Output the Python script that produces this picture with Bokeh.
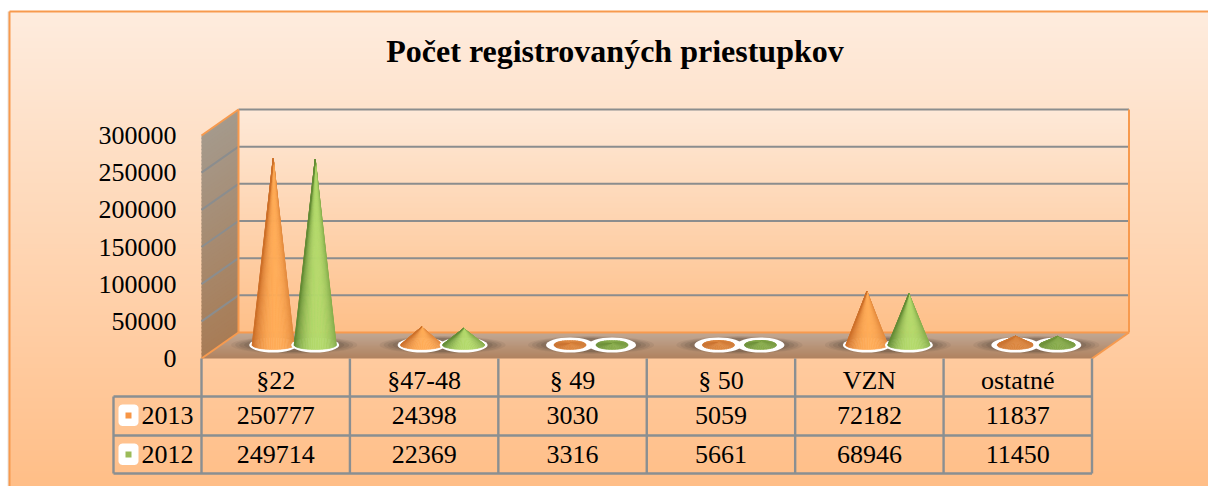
import math
from bokeh.plotting import figure
from bokeh.embed import file_html
from bokeh.resources import INLINE
from bokeh.core.properties import value
from bokeh.models import FixedTicker, BasicTickFormatter

categories = ["§22", "§47-48", "§ 49", "§ 50", "VZN", "ostatné"]
series_names = ["2013", "2012"]
values_2013 = [250777, 24398, 3030, 5059, 72182, 11837]
values_2012 = [249714, 22369, 3316, 5661, 68946, 11450]
y_ticks = [0, 50000, 100000, 150000, 200000, 250000, 300000]
title = "Počet registrovaných priestupkov"

# page-pixel layout -> data conversion
X0, Y0 = 201.0, 358.0
PXCAT = (1091.5 - 201.0) / 6
S = 223.0 / 300000
def fx(px): return (px - X0) / PXCAT
def fy(py): return (Y0 - py) / S
def lenx(px): return px / PXCAT
def leny(py): return py / S
def hexc(c): return "#%02x%02x%02x" % tuple(int(round(v)) for v in c)
def mix(a, b, t): return [a[i] + (b[i] - a[i]) * t for i in range(3)]

DX, DY = 37.0, 26.0
FONT = "Liberation Serif"
W, H = 1208, 486

p = figure(width=W, height=H, output_backend="svg", toolbar_location=None,
           x_range=(fx(0), fx(W)), y_range=(fy(H), fy(0)),
           min_border=0, min_border_left=0, min_border_right=0, min_border_top=0, min_border_bottom=0,
           outline_line_color=None, background_fill_color="white", border_fill_color="white")
p.grid.visible = False

def grad_strips(y_top, y_bot, c_top, c_bot, xl, xr):
    n = int(y_bot - y_top)
    xs0, xs1, ys0, ys1, cols = [], [], [], [], []
    for i in range(n):
        t = i / max(n - 1, 1)
        xs0.append(fx(xl)); xs1.append(fx(xr))
        ys1.append(fy(y_top + i)); ys0.append(fy(min(y_top + i + 2, y_bot)))
        cols.append(hexc(mix(c_top, c_bot, t)))
    p.quad(left=xs0, right=xs1, bottom=ys0, top=ys1, fill_color=cols, line_color=None)

# panel
p.quad(left=[fx(7)], right=[fx(9)], bottom=[fy(H)], top=[fy(11)], fill_color="#e8e5e2", line_color=None)
grad_strips(11, H, (254, 236, 222), (255, 190, 135), 9, W)
ORANGE = "#f79a4e"
p.segment(x0=[fx(9)], y0=[fy(11)], x1=[fx(W)], y1=[fy(11)], line_color=ORANGE, line_width=2)
p.segment(x0=[fx(9)], y0=[fy(11)], x1=[fx(9)], y1=[fy(H)], line_color=ORANGE, line_width=2)

# 3D box: back wall
grad_strips(109, 333, (254, 233, 216), (254, 191, 136), 238, 1128)

# side wall
n = 60
xs, ys, cols = [], [], []
for i in range(n):
    a = 300000 * i / n
    b = 300000 * (i + 1.4) / n
    b = min(b, 300000)
    xs.append([0, lenx(DX), lenx(DX), 0])
    ys.append([a, a + leny(DY), b + leny(DY), b])
    cols.append(hexc(mix((168, 124, 86), (165, 154, 140), i / (n - 1))))
p.patches(xs, ys, fill_color=cols, line_color=None)

# floor
n = 26
xs, ys, cols = [], [], []
for i in range(n):
    t0, t1 = i / n, min((i + 1.5) / n, 1)
    xs.append([lenx(DX) * t0, 6 + lenx(DX) * t0, 6 + lenx(DX) * t1, lenx(DX) * t1])
    ys.append([leny(DY) * t0, leny(DY) * t0, leny(DY) * t1, leny(DY) * t1])
    cols.append(hexc(mix((176, 130, 97), (192, 168, 148), i / (n - 1))))
p.patches(xs, ys, fill_color=cols, line_color=None)

# gridlines (back wall and side wall)
GRID = "#8b8d8e"
gt = [t for t in y_ticks if t > 0]
p.segment(x0=[lenx(DX)] * len(gt), y0=[t + leny(DY) for t in gt], x1=[6 + lenx(DX)] * len(gt),
          y1=[t + leny(DY) for t in gt], line_color=GRID, line_width=2)
gs = [t for t in y_ticks if 0 < t < 300000]
p.segment(x0=[0] * len(gs), y0=gs, x1=[lenx(DX)] * len(gs), y1=[t + leny(DY) for t in gs],
          line_color=GRID, line_width=2)

# orange box edges
p.segment(x0=[lenx(DX), 6 + lenx(DX), lenx(DX), 0, 6, 0],
          y0=[0 + leny(DY), leny(DY), leny(DY), 0, 0, 300000],
          x1=[lenx(DX), 6 + lenx(DX), 6 + lenx(DX), lenx(DX), 6 + lenx(DX), lenx(DX)],
          y1=[300000 + leny(DY), 300000 + leny(DY), leny(DY), leny(DY), leny(DY), 300000 + leny(DY)],
          line_color=ORANGE, line_width=2)

# cones
SERIES = [
    (values_2013, -21.0, (205, 112, 42), (255, 172, 88), (200, 115, 50)),
    (values_2012, 21.0, (100, 140, 54), (180, 218, 108), (112, 146, 58)),
]
RY = 4.5
RINGX, RINGY = 24.0, 7.5
BASE = DY / 2

# soft shadow behind each category's pair
for k in range(len(categories)):
    cx = k + 0.5 + lenx(DX / 2)
    for sx, sy, al in [(126, 18, .09), (118, 16.5, .12), (110, 15, .15), (100, 14, .18)]:
        p.ellipse(x=[cx], y=[leny(BASE + 0.5)], width=[lenx(sx)], height=[leny(sy)],
                  fill_color="#4e4238", fill_alpha=al, line_color=None)

def cone(cat, val, off, dark, light, flat):
    cx = cat + 0.5 + lenx(DX / 2) + lenx(off)
    by = leny(BASE + 0.5)
    h = val * S  # pixels above base centre
    p.ellipse(x=[cx], y=[by], width=[lenx(2 * RINGX)], height=[leny(2 * RINGY)],
              fill_color="white", line_color=None)
    rx = 16.0 if val < 8000 else (18.0 if val < 15000 else 21.0)
    ry = RY
    if val < 15000:
        dark_, light_ = mix(flat, dark, 0.3), mix(flat, light, 0.35)
    else:
        dark_, light_ = dark, light
    # silhouette: apex + visible part of base ellipse
    if h > ry:
        yt = ry * ry / h
        a0 = math.asin(min(yt / ry, 1))
    else:
        a0 = math.pi / 2
    nseg = 36
    angs = [a0 + (-math.pi - 2 * a0) * i / nseg for i in range(nseg + 1)]  # right tangent -> under -> left tangent
    xs, ys, cols = [], [], []
    for i in range(nseg):
        a, b = angs[i], angs[i + 1]
        u = (math.cos(a) + math.cos(b)) / 2  # -1 .. 1 across the cone
        d = abs(u - 0.12) / 1.12
        col = mix(light_, dark_, min(d ** 2.4, 1))
        xs.append([cx, cx + lenx(rx * math.cos(a)), cx + lenx(rx * math.cos(b))])
        ys.append([val + by, by + leny(ry * math.sin(a)), by + leny(ry * math.sin(b))])
        cols.append(hexc(col))
    p.patches(xs, ys, fill_color=cols, line_color=cols, line_width=0.6)

for k in range(len(categories)):
    for vals, off, dark, light, flat in SERIES:
        cone(k, vals[k], off, dark, light, flat)

# data table lines
TL = "#8a8f92"
col_x = list(range(len(categories) + 1))
p.segment(x0=col_x, y0=[0] * len(col_x), x1=col_x, y1=[fy(473)] * len(col_x), line_color=TL, line_width=2.4)
rows_py = [396, 435, 473]
p.segment(x0=[fx(113)] * 3, y0=[fy(r) for r in rows_py], x1=[6] * 3, y1=[fy(r) for r in rows_py],
          line_color=TL, line_width=2.4)
p.segment(x0=[fx(113)], y0=[fy(396)], x1=[fx(113)], y1=[fy(473)], line_color=TL, line_width=2.4)

def rrect(x0, y0, x1, y1, r):
    pts = []
    for cx, cy, a0 in [(x1 - r, y0 + r, -90), (x1 - r, y1 - r, 0), (x0 + r, y1 - r, 90), (x0 + r, y0 + r, 180)]:
        for d in range(0, 91, 15):
            t = math.radians(a0 + d)
            pts.append((cx + r * math.cos(t), cy + r * math.sin(t)))
    return [fx(a) for a, _ in pts], [fy(b) for _, b in pts]

KEY_COLS = ["#f79646", "#9bbb59"]
for name, row_cy, col in zip(series_names, [415, 454], KEY_COLS):
    xx, yy = rrect(118, row_cy - 11, 138, row_cy + 10.5, 4)
    p.patch(xx, yy, fill_color="white", line_color=None)
    p.quad(left=[fx(125)], right=[fx(131)], bottom=[fy(row_cy + 3)], top=[fy(row_cy - 3)],
           fill_color=col, line_color=None)

# table text
txt = dict(text_font=value(FONT), text_font_size="26px", text_color="black", text_baseline="middle")
p.text(x=[fx(141)] * 2, y=[fy(415), fy(454)], text=series_names, text_align="left", **txt)
cx_cols = [k + 0.5 for k in range(len(categories))]
p.text(x=cx_cols, y=[fy(415)] * 6, text=[str(v) for v in values_2013], text_align="center", **txt)
p.text(x=cx_cols, y=[fy(454)] * 6, text=[str(v) for v in values_2012], text_align="center", **txt)

# title
p.text(x=[fx(614.5)], y=[fy(50.5)], text=[title], text_align="center", text_baseline="middle",
       text_font=value(FONT), text_font_size="32px", text_font_style="bold", text_color="black")

# axes placed inside the frame
ax = p.yaxis[0]
ax.fixed_location = 0
ax.ticker = FixedTicker(ticks=y_ticks)
ax.formatter = BasicTickFormatter(use_scientific=False)
ax.axis_line_color = None
ax.major_tick_line_color = None
ax.minor_tick_line_color = None
ax.major_label_standoff = 19
ax.major_label_text_font = FONT
ax.major_label_text_font_size = "26px"
ax.major_label_text_color = "black"

bx = p.xaxis[0]
bx.fixed_location = 0
bx.ticker = FixedTicker(ticks=cx_cols)
bx.major_label_overrides = {t: c for t, c in zip(cx_cols, categories)}
bx.axis_line_color = None
bx.major_tick_line_color = None
bx.minor_tick_line_color = None
bx.major_label_standoff = 1
bx.major_label_text_font = FONT
bx.major_label_text_font_size = "26px"
bx.major_label_text_color = "black"

open("out.html", "w").write(file_html(p, INLINE))
